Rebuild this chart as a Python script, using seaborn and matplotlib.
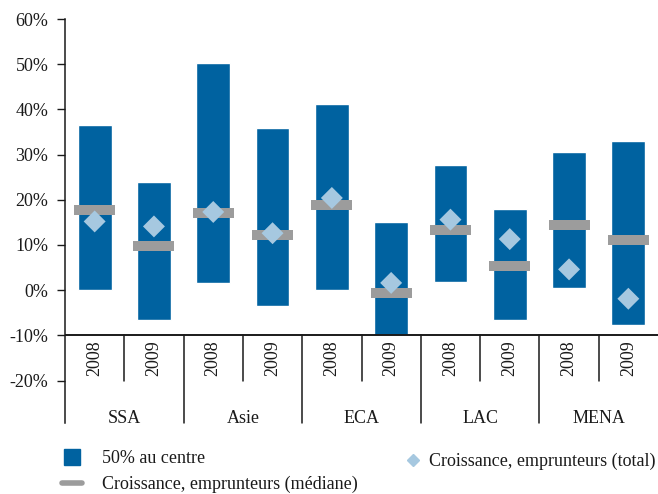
import numpy as np
import pandas as pd
import matplotlib
matplotlib.use("Agg")
import matplotlib.pyplot as plt
from matplotlib.lines import Line2D
import seaborn as sns

# --- Data (in %) ---
regions = ["SSA", "Asie", "ECA", "LAC", "MENA"]
years = ["2008", "2009"]
low = [0.0, -6.7, 1.5, -3.4, 0.0, -10.0, 1.9, -6.5, 0.4, -7.8]
high = [36.6, 24.0, 50.3, 35.9, 41.2, 15.1, 27.7, 18.0, 30.6, 33.0]
median = [17.7, 9.7, 17.0, 12.2, 18.8, -0.7, 13.3, 5.3, 14.4, 11.1]
total = [15.2, 14.1, 17.3, 12.6, 20.4, 1.6, 15.6, 11.3, 4.6, -1.9]

blue = "#0062a0"
grey = "#9c9c9c"
light = "#a6c8e0"
ink = "#1a1a1a"

df = pd.DataFrame({
    "slot": [f"{r} {y}" for r in regions for y in years],
    "year": [y for r in regions for y in years],
    "low": low,
    "span": np.array(high) - np.array(low),
    "median": median,
    "total": total,
})
df["pos"] = range(len(df))

sns.set_style("white")
plt.rcParams["font.family"] = ["Liberation Serif", "DejaVu Serif"]
fs = 13

fig = plt.figure(figsize=(6.58, 4.94), dpi=100)
ax = fig.add_axes([65 / 658, 1 - 423 / 494, 1 - 65 / 658, (423 - 19) / 494])

# --- Floating bars: 50% au centre ---
sns.barplot(data=df, x="slot", y="span", bottom=df["low"].values, color=blue,
            width=0.57, saturation=1, ax=ax, zorder=2)

# --- Median markers ---
ax.hlines(df["median"], df["pos"] - 0.345, df["pos"] + 0.345, color=grey,
          lw=7.2, zorder=3)

# --- Total growth diamonds ---
sns.scatterplot(data=df, x="pos", y="total", marker="D", s=125, color=light,
                edgecolor="none", ax=ax, zorder=4)

ax.set_xlim(-0.5, 9.5)
ax.set_ylim(-29.4, 60)
ax.set_yticks(range(-20, 61, 10))
ax.set_yticklabels([f"{t}%" for t in range(-20, 61, 10)], fontsize=fs)
ax.tick_params(axis="y", left=True, length=6, width=1, pad=6, colors=ink)
ax.set_xticks([])
ax.set_xlabel("")
ax.set_ylabel("")
for s in ["top", "right", "bottom"]:
    ax.spines[s].set_visible(False)
ax.spines["left"].set_linewidth(1.1)
ax.spines["left"].set_color(ink)

# --- Category axis at -10% with two-level labels ---
ax.axhline(-10, color=ink, lw=1.4, zorder=5)
for i, y in enumerate(df["year"]):
    ax.text(i, -15, y, rotation=90, ha="center", va="center", fontsize=fs,
            color=ink)
for i in range(len(regions)):
    ax.text(2 * i + 0.5, -28.3, regions[i], ha="center", va="center",
            fontsize=fs, color=ink)
    if i > 0:
        ax.plot([2 * i - 0.5] * 2, [-10, -29.4], color=ink, lw=1.1,
                clip_on=False)
    ax.plot([2 * i + 0.5] * 2, [-10, -20], color=ink, lw=1.1)

# --- Legends ---
h_bar = Line2D([], [], marker="s", ms=12, color=blue, ls="")
h_med = Line2D([], [], color=grey, lw=4)
h_tot = Line2D([], [], marker="D", ms=6.5, color=light, ls="")
fig.legend([h_bar, h_med], ["50% au centre", "Croissance, emprunteurs (médiane)"],
           loc="upper left", bbox_to_anchor=(62 / 658, 1 - 450 / 494),
           frameon=False, fontsize=fs, borderpad=0, borderaxespad=0,
           handlelength=1.1, handletextpad=1.1, labelspacing=0.5,
           labelcolor=ink)
fig.legend([h_tot], ["Croissance, emprunteurs (total)"],
           loc="upper left", bbox_to_anchor=(405 / 658, 1 - 453 / 494),
           frameon=False, fontsize=fs, borderpad=0, borderaxespad=0,
           handlelength=0.9, handletextpad=0.45, labelcolor=ink)

fig.savefig("out.png", dpi=100)
